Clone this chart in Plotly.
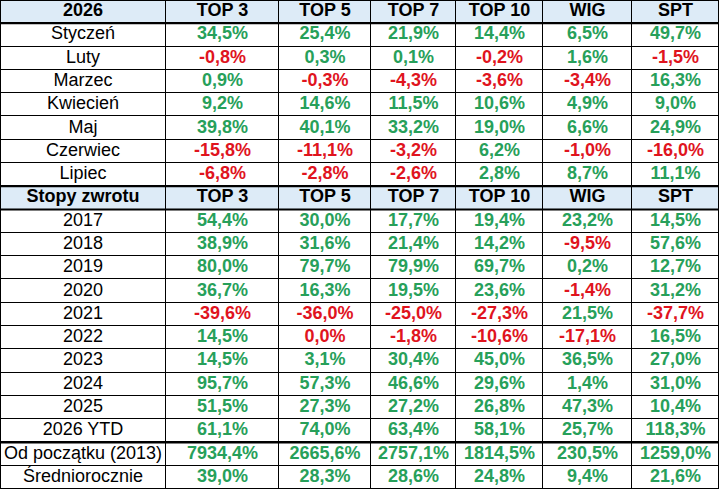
import plotly.graph_objects as go

# column headers
columns = ["TOP 3", "TOP 5", "TOP 7", "TOP 10", "WIG", "SPT"]

# 2026 monthly returns (%)
months = ["Styczeń", "Luty", "Marzec", "Kwiecień", "Maj", "Czerwiec", "Lipiec"]
top3_m = [34.5, -0.8, 0.9, 9.2, 39.8, -15.8, -6.8]
top5_m = [25.4, 0.3, -0.3, 14.6, 40.1, -11.1, -2.8]
top7_m = [21.9, 0.1, -4.3, 11.5, 33.2, -3.2, -2.6]
top10_m = [14.4, -0.2, -3.6, 10.6, 19.0, 6.2, 2.8]
wig_m = [6.5, 1.6, -3.4, 4.9, 6.6, -1.0, 8.7]
spt_m = [49.7, -1.5, 16.3, 9.0, 24.9, -16.0, 11.1]

# yearly returns (%)
years = ["2017", "2018", "2019", "2020", "2021", "2022", "2023", "2024", "2025",
         "2026 YTD", "Od początku (2013)", "Średniorocznie"]
top3_y = [54.4, 38.9, 80.0, 36.7, -39.6, 14.5, 14.5, 95.7, 51.5, 61.1, 7934.4, 39.0]
top5_y = [30.0, 31.6, 79.7, 16.3, -36.0, 0.0, 3.1, 57.3, 27.3, 74.0, 2665.6, 28.3]
top7_y = [17.7, 21.4, 79.9, 19.5, -25.0, -1.8, 30.4, 46.6, 27.2, 63.4, 2757.1, 28.6]
top10_y = [19.4, 14.2, 69.7, 23.6, -27.3, -10.6, 45.0, 29.6, 26.8, 58.1, 1814.5, 24.8]
wig_y = [23.2, -9.5, 0.2, -1.4, 21.5, -17.1, 36.5, 1.4, 47.3, 25.7, 230.5, 9.4]
spt_y = [14.5, 57.6, 12.7, 31.2, -37.7, 16.5, 27.0, 31.0, 10.4, 118.3, 1259.0, 21.6]

GREEN = "#27a05a"
RED = "#e0141e"
HEAD_BG = "#ddebf7"
FONT = "Arial, Liberation Sans, sans-serif"

# column edges in pixels (table is 719 px wide)
col_edges = [0, 166, 279, 371, 456, 543, 632, 719]
col_mid = [(a + b) / 2 for a, b in zip(col_edges[:-1], col_edges[1:])]


def fmt(v):
    return "<b>" + f"{v:.1f}".replace(".", ",") + "%</b>"


monthly = [top3_m, top5_m, top7_m, top10_m, wig_m, spt_m]
yearly = [top3_y, top5_y, top7_y, top10_y, wig_y, spt_y]

# rows: header, 7 months, sub-header, 12 yearly rows
rows = [("<b>2026</b>", [f"<b>{c}</b>" for c in columns], None)]
for i, m in enumerate(months):
    rows.append((m, None, [s[i] for s in monthly]))
rows.append(("<b>Stopy zwrotu</b>", [f"<b>{c}</b>" for c in columns], None))
for i, y in enumerate(years):
    rows.append((y, None, [s[i] for s in yearly]))
n_rows = len(rows)

# background fill: header rows blue
z = [[1 if hdr is not None else 0] * 7 for (_, hdr, _) in rows]

xs, ys, texts, colors = [], [], [], []
for r, (label, hdr, vals) in enumerate(rows):
    xs.append(col_mid[0]); ys.append(r + 0.5); texts.append(label); colors.append("black")
    for c in range(6):
        xs.append(col_mid[c + 1]); ys.append(r + 0.5)
        if hdr is not None:
            texts.append(hdr[c]); colors.append("black")
        else:
            v = vals[c]
            texts.append(fmt(v)); colors.append(GREEN if v > 0 else RED)

fig = go.Figure()
fig.add_trace(go.Heatmap(
    x=col_edges, y=list(range(n_rows + 1)), z=z,
    colorscale=[[0, "white"], [1, HEAD_BG]], zmin=0, zmax=1,
    showscale=False, xgap=1, ygap=1, hoverinfo="skip",
))
fig.add_trace(go.Scatter(
    x=xs, y=ys, text=texts, mode="text", textposition="middle center",
    textfont=dict(family=FONT, size=18, color=colors), hoverinfo="skip",
))

# thicker separator lines and outer border
shapes = []
for k in [1, 8, 9, 19]:
    shapes.append(dict(type="line", xref="x", yref="y", x0=0, x1=719, y0=k, y1=k,
                       line=dict(color="black", width=2)))
shapes.append(dict(type="rect", xref="paper", yref="paper", x0=0, x1=1, y0=0, y1=1,
                   line=dict(color="black", width=2)))

fig.update_layout(
    width=719, height=489,
    margin=dict(l=0, r=0, t=0, b=0),
    paper_bgcolor="white",
    plot_bgcolor="black",
    showlegend=False,
    shapes=shapes,
    xaxis=dict(range=[0, 719], visible=False, fixedrange=True),
    yaxis=dict(range=[n_rows, 0], visible=False, fixedrange=True),
)

# drop the browser's default page margin so the table fills the window
fig.write_html(
    "out.html",
    config={"displayModeBar": False},
    post_script="document.body.style.margin='0';document.body.style.overflow='hidden';",
)
